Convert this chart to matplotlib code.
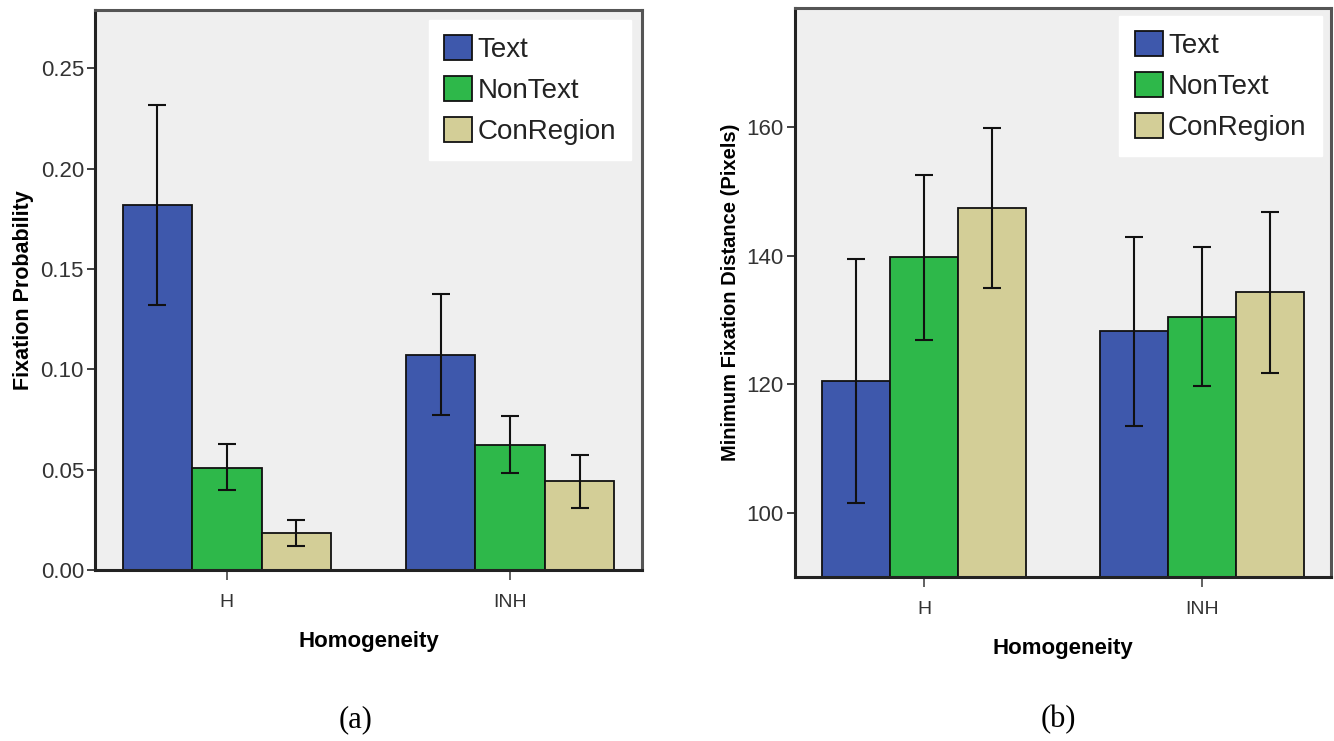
import matplotlib
matplotlib.use("Agg")
import matplotlib.pyplot as plt
import numpy as np

plt.rcParams['font.family'] = ['Liberation Sans', 'DejaVu Sans']

groups = ["H", "INH"]
series = ["Text", "NonText", "ConRegion"]
colors = ["#3E58AC", "#2EB84A", "#D3CE97"]

# Panel (a): Fixation Probability
prob_mean = {"Text": [0.182, 0.107], "NonText": [0.051, 0.0625], "ConRegion": [0.0183, 0.0443]}
prob_low = {"Text": [0.132, 0.077], "NonText": [0.0397, 0.0483], "ConRegion": [0.0119, 0.0311]}
prob_high = {"Text": [0.2315, 0.1375], "NonText": [0.0628, 0.0768], "ConRegion": [0.0249, 0.0575]}
prob_ticks = [0.00, 0.05, 0.10, 0.15, 0.20, 0.25]

# Panel (b): Minimum Fixation Distance
dist_mean = {"Text": [120.5, 128.2], "NonText": [139.7, 130.5], "ConRegion": [147.4, 134.3]}
dist_low = {"Text": [101.5, 113.5], "NonText": [126.8, 119.7], "ConRegion": [135.0, 121.8]}
dist_high = {"Text": [139.4, 142.9], "NonText": [152.5, 141.3], "ConRegion": [159.8, 146.7]}
dist_ticks = [100, 120, 140, 160]

W, H = 1334, 741
fig = plt.figure(figsize=(W / 100, H / 100), dpi=100)
fig.patch.set_facecolor("white")


def px_axes(x0, y0, x1, y1):
    return fig.add_axes([x0 / W, 1 - y1 / H, (x1 - x0) / W, (y1 - y0) / H])


def draw(ax, means, lows, highs, ylim, yticks, yfmt, ylabel, ylabel_size, leg_anchor):
    ax.set_facecolor("#EFEFEF")
    x = np.arange(len(groups))
    bw = 0.245
    for i, s in enumerate(series):
        xs = x + (i - 1) * bw
        m = np.array(means[s])
        lo = np.array(lows[s])
        hi = np.array(highs[s])
        ax.bar(xs, m, width=bw, color=colors[i], edgecolor="#111111", linewidth=1.3,
               label=s, zorder=2)
        ax.errorbar(xs, m, yerr=[m - lo, hi - m], fmt="none", ecolor="#111111",
                    elinewidth=1.5, capsize=6.5, capthick=1.5, zorder=3)
    ax.set_xlim(-0.465, 1.465)
    ax.set_ylim(*ylim)
    ax.set_xticks(x)
    ax.set_xticklabels(groups, fontsize=14, color="#333333")
    ax.set_yticks(yticks)
    ax.set_yticklabels([yfmt.format(v) for v in yticks], fontsize=16, color="#333333")
    ax.tick_params(axis="y", direction="out", length=6, width=1.3, color="#333333", pad=2)
    ax.tick_params(axis="x", direction="out", length=7, width=1.3, color="#555555", pad=10)
    for side in ["left", "bottom"]:
        ax.spines[side].set_color("#222222")
        ax.spines[side].set_linewidth(2.2)
    for side in ["top", "right"]:
        ax.spines[side].set_color("#555555")
        ax.spines[side].set_linewidth(2.2)
    ax.set_xlabel("Homogeneity", fontsize=16, fontweight="bold", labelpad=15)
    ax.set_ylabel(ylabel, fontsize=ylabel_size, fontweight="bold", labelpad=5)
    leg = ax.legend(loc="upper right", bbox_to_anchor=leg_anchor, borderaxespad=0,
                    fontsize=20, frameon=True, fancybox=False, framealpha=1,
                    handlelength=1.0, handleheight=1.0, handletextpad=0.2,
                    labelspacing=0.47, borderpad=0.55)
    leg.get_frame().set_edgecolor("white")
    leg.get_frame().set_facecolor("white")
    for t in leg.get_texts():
        t.set_color("#222222")


ax1 = px_axes(95, 10, 642, 570)
draw(ax1, prob_mean, prob_low, prob_high, (0, 0.279), prob_ticks, "{:.2f}",
     "Fixation Probability", 15.5, (0.98, 0.983))

ax2 = px_axes(795, 8, 1331, 577)
draw(ax2, dist_mean, dist_low, dist_high, (90, 178.5), dist_ticks, "{:d}",
     "Minimum Fixation Distance (Pixels)", 14.5, (0.983, 0.986))

fig.text(356 / W, 1 - 720 / H, "(a)", fontsize=22, family="Liberation Serif",
         ha="center", va="center")
fig.text(1058 / W, 1 - 720 / H, "(b)", fontsize=22, family="Liberation Serif",
         ha="center", va="center")

fig.savefig("out.png", dpi=100)
